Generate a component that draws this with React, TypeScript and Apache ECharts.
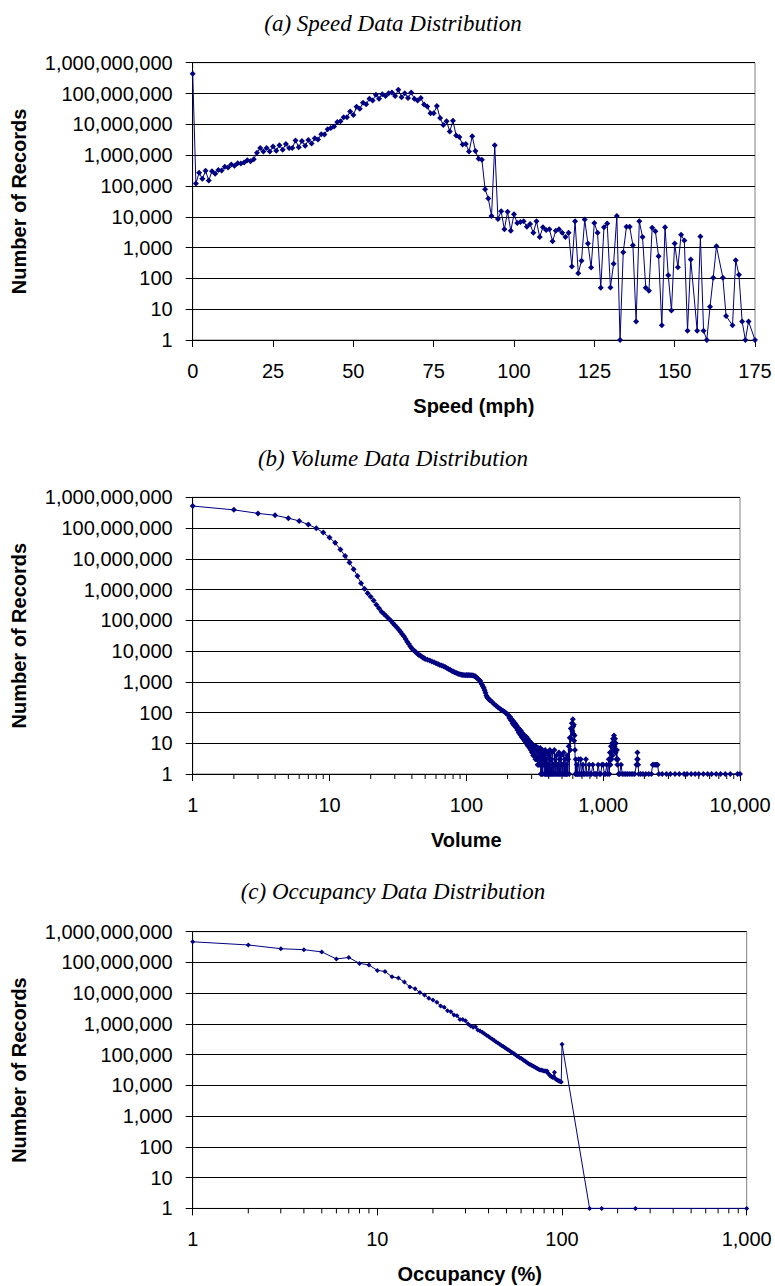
import React, { useEffect, useRef } from "react";
import * as echarts from "echarts";

// ---------- (a) Speed ----------
const speedTicks = [0, 25, 50, 75, 100, 125, 150, 175];
// counts for speed 0..175 mph (null = no record)
const speedCounts: (number | null)[] = [
  4.4e8, 1.2e5, 2.7e5, 1.7e5, 3.1e5, 1.5e5, 3.0e5, 2.5e5, 3.3e5, 3.2e5,
  4.2e5, 4.0e5, 5.0e5, 4.5e5, 5.5e5, 5.4e5, 5.8e5, 6.8e5, 6.3e5, 7.4e5,
  1.2e6, 1.7e6, 1.3e6, 1.7e6, 1.3e6, 1.9e6, 1.4e6, 2.1e6, 1.5e6, 2.3e6,
  1.7e6, 1.7e6, 3.0e6, 1.8e6, 2.9e6, 2.0e6, 3.1e6, 2.4e6, 3.5e6, 3.2e6,
  4.8e6, 4.7e6, 6.9e6, 7.6e6, 8.5e6, 1.2e7, 1.26e7, 1.7e7, 1.7e7, 2.6e7,
  2.0e7, 3.7e7, 3.2e7, 5.0e7, 4.5e7, 6.8e7, 5.9e7, 9.1e7, 6.8e7, 9.5e7,
  8.3e7, 1.02e8, 1.07e8, 8.3e7, 1.32e8, 7.6e7, 1.02e8, 7.2e7, 1.07e8, 6.8e7,
  5.9e7, 7.2e7, 4.4e7, 3.8e7, 2.3e7, 2.3e7, 3.9e7, 1.6e7, 9.5e6, 1.26e7,
  5.9e6, 1.3e7, 4.3e6, 3.9e6, 2.2e6, 2.3e6, 1.3e6, 4.1e6, 1.35e6, 7.6e5,
  7.1e5, 7.8e4, 3.9e4, 1.05e4, 2.1e6, 8.5e3, 1.5e4, 3.9e3, 1.45e4, 3.5e3,
  1.2e4, 6.3e3, 6.8e3, 7.2e3, 4.7e3, 5.8e3, 3.0e3, 7.1e3, 2.2e3, 4.6e3,
  3.7e3, 3.9e3, 1.6e3, 3.5e3, 3.9e3, 3.0e3, 2.2e3, 3.0e3, 245, 7.2e3,
  148, 370, 8.1e3, 1.35e3, 224, 6.3e3, 3.0e3, 50, 4.6e3, 6.0e3,
  51, 300, 1.05e4, 1, 710, 4.7e3, 4.7e3, 1.2e3, 4, 7.1e3,
  2.2e3, 50, 40, 4.4e3, 3.4e3, 525, 3, 4.6e3, 126, 9,
  1.35e3, 230, 2.6e3, 1.7e3, 2, 410, null, 2, 2.3e3, 2,
  1, 12, 105, 1.1e3, null, 105, 6, null, 3, 390,
  132, 4, 1, 4, null, 1,
];

// ---------- (b) Volume ----------
const volumeTicks = [1, 10, 100, 1000, 10000];
const volumeData: [number, number][] = [
  [1, 5.2e8], [2, 3.9e8], [3, 3.0e8], [4, 2.6e8], [5, 2.1e8], [6, 1.7e8], [7, 1.3e8], [8, 9.8e7], [9, 7.1e7], [10, 4.9e7],
  [11, 3.3e7], [12, 2.0e7], [13, 1.23e7], [14, 7.6e6], [15, 4.6e6], [16, 2.75e6], [17, 1.6e6], [18, 1.07e6], [19, 7.6e5], [20, 5.8e5],
  [21, 4.4e5], [22, 3.2e5], [23, 2.45e5], [24, 1.9e5], [25, 1.6e5], [26, 1.35e5], [27, 1.15e5], [28, 9.8e4], [29, 8.1e4], [30, 6.9e4],
  [31, 5.9e4], [32, 5.0e4], [33, 4.2e4], [34, 3.5e4], [35, 3.0e4], [36, 2.45e4], [37, 2.0e4], [38, 1.7e4], [39, 1.4e4], [40, 1.2e4],
  [41, 1.07e4], [42, 9.8e3], [43, 8.9e3], [44, 8.1e3], [45, 7.4e3], [46, 7.1e3], [47, 6.6e3], [48, 6.2e3], [49, 5.9e3], [50, 5.5e3],
  [52, 5.2e3], [54, 4.9e3], [56, 4.6e3], [58, 4.3e3], [60, 4.0e3], [62, 3.8e3], [64, 3.5e3], [66, 3.4e3], [68, 3.2e3], [70, 3.0e3],
  [72, 2.8e3], [74, 2.6e3], [76, 2.45e3], [78, 2.3e3], [80, 2.15e3], [82, 2.05e3], [84, 1.95e3], [86, 1.85e3], [88, 1.8e3], [90, 1.75e3],
  [92, 1.7e3], [94, 1.66e3], [96, 1.66e3], [98, 1.64e3], [100, 1.66e3], [102, 1.64e3], [104, 1.66e3], [106, 1.64e3], [108, 1.62e3], [110, 1.62e3],
  [112, 1.6e3], [114, 1.55e3], [116, 1.5e3], [118, 1.4e3], [120, 1.3e3], [122, 1.23e3], [124, 1.15e3], [126, 1.07e3], [128, 930], [130, 810],
  [132, 720], [134, 630], [136, 525], [138, 440], [140, 360], [142, 315], [144, 290], [146, 270], [148, 255], [150, 245],
  [155, 215], [160, 185], [165, 165], [170, 148], [175, 135], [180, 123], [185, 115], [190, 105], [195, 95], [200, 87],
  [203, 80], [206, 66], [209, 72], [212, 55], [215, 60], [218, 44], [221, 52], [224, 38], [227, 45], [230, 33],
  [233, 38], [236, 27], [239, 32], [242, 22], [245, 28], [248, 19], [251, 25], [254, 16], [257, 21], [260, 14],
  [263, 19], [266, 12], [269, 17], [272, 11], [275, 16], [278, 9], [281, 14], [284, 8], [287, 12], [290, 7],
  [293, 11], [296, 6], [299, 10], [302, 5], [305, 9], [308, 4], [311, 8], [314, 4], [317, 7], [320, 3],
  [323, 8], [326, 3], [329, 6], [332, 2], [335, 7], [338, 2], [341, 6], [344, 2], [347, 7], [350, 1],
  [353, 5], [356, 1], [359, 6], [362, 1], [365, 4], [368, 2], [371, 5], [374, 1], [377, 6], [380, 1],
  [383, 3], [386, 1], [389, 5], [392, 1], [395, 2], [398, 1], [401, 4], [404, 1], [408, 6], [412, 1],
  [416, 3], [420, 1], [424, 5], [428, 1], [432, 2], [436, 1], [440, 6], [444, 1], [448, 3], [452, 1],
  [456, 4], [460, 1], [465, 2], [470, 1], [475, 5], [480, 1], [485, 3], [490, 1], [495, 4], [500, 1],
  [505, 2], [510, 1], [515, 5], [520, 1], [525, 3], [530, 1], [535, 2], [540, 1], [545, 4], [550, 1],
  [555, 3], [560, 8], [565, 1], [570, 15], [575, 6], [580, 30], [585, 14], [590, 45], [595, 25], [600, 60],
  [603, 35], [606, 20], [610, 40], [614, 12], [618, 18], [622, 6], [626, 1], [630, 3], [636, 1], [642, 2],
  [648, 1], [655, 1], [662, 3], [670, 1], [678, 1], [686, 3], [694, 1], [702, 1], [712, 2], [722, 1],
  [735, 1], [748, 3], [760, 1], [775, 1], [790, 2], [805, 1], [820, 1], [840, 2], [860, 1], [880, 1],
  [900, 1], [920, 2], [940, 1], [960, 1], [980, 2], [1000, 2], [1020, 1], [1040, 1], [1060, 2], [1080, 1],
  [1100, 3], [1110, 1], [1120, 5], [1130, 2], [1140, 8], [1150, 3], [1160, 10], [1170, 4], [1180, 14], [1190, 6],
  [1200, 18], [1210, 8], [1220, 14], [1230, 5], [1240, 10], [1250, 3], [1260, 6], [1270, 2], [1280, 3], [1295, 1],
  [1320, 1], [1350, 2], [1380, 1], [1420, 1], [1460, 1], [1500, 1], [1550, 1], [1600, 1], [1650, 1], [1700, 1],
  [1750, 2], [1770, 3], [1780, 5], [1790, 3], [1800, 2], [1820, 1], [1880, 1], [1950, 1], [2050, 1], [2150, 1],
  [2250, 1], [2300, 2], [2350, 2], [2400, 2], [2450, 2], [2500, 2], [2550, 1], [2700, 1], [2900, 1], [3100, 1],
  [3350, 1], [3600, 1], [3900, 1], [4100, 1], [4400, 1], [4700, 1], [5000, 1], [5400, 1], [5800, 1], [6200, 1],
  [6700, 1], [7200, 1], [7800, 1], [8500, 1], [9600, 1], [10000, 1],
];

// ---------- (c) Occupancy ----------
const occupancyTicks = [1, 10, 100, 1000];
const occupancyPercent = [
  1, 2, 3, 4, 5, 6, 7, 8, 9, 10,
  11, 12, 13, 14, 15, 16, 17, 18, 19, 20,
  21, 22, 23, 24, 25, 26, 27, 28, 29, 30,
  31, 32, 33, 34, 35, 36, 37, 38, 39, 40,
  41, 42, 43, 44, 45, 46, 47, 48, 49, 50,
  51, 52, 53, 54, 55, 56, 57, 58, 59, 60,
  61, 62, 63, 64, 65, 66, 67, 68, 69, 70,
  71, 72, 73, 74, 75, 76, 77, 78, 79, 80,
  81, 82, 83, 84, 85, 86, 87, 88, 89, 90,
  91, 92, 93, 94, 95, 96, 97, 98, 99, 100,
  141, 164, 250, 1000,
];
const occupancyCounts = [
  4.7e8, 3.7e8, 2.8e8, 2.6e8, 2.2e8, 1.3e8, 1.45e8, 9.3e7, 8.3e7, 5.5e7,
  5.1e7, 3.4e7, 3.1e7, 2.3e7, 1.6e7, 1.4e7, 1.05e7, 8.7e6, 6.8e6, 6.0e6,
  5.1e6, 3.8e6, 3.5e6, 2.7e6, 2.5e6, 1.95e6, 1.86e6, 1.4e6, 1.4e6, 1.26e6,
  1.0e6, 8.5e5, 7.8e5, 8.1e5, 6.3e5, 5.9e5, 5.4e5, 4.8e5, 4.3e5, 3.9e5,
  3.5e5, 3.2e5, 2.9e5, 2.6e5, 2.4e5, 2.2e5, 2.0e5, 1.86e5, 1.7e5, 1.55e5,
  1.45e5, 1.35e5, 1.23e5, 1.15e5, 1.07e5, 1.0e5, 9.1e4, 8.5e4, 7.9e4, 7.6e4,
  7.1e4, 6.6e4, 6.2e4, 5.8e4, 5.4e4, 5.1e4, 4.8e4, 4.6e4, 4.4e4, 4.2e4,
  4.0e4, 3.8e4, 3.6e4, 3.5e4, 3.3e4, 3.2e4, 3.2e4, 3.1e4, 3.0e4, 2.95e4,
  2.95e4, 2.9e4, 2.95e4, 2.5e4, 2.3e4, 2.1e4, 2.0e4, 1.9e4, 1.8e4, 1.95e4,
  2.7e4, 1.66e4, 1.6e4, 1.5e4, 1.48e4, 1.4e4, 1.38e4, 1.32e4, 1.29e4, 2.2e5,
  1, 1, 1, 1,
];

const recordTicks = [1, 10, 100, 1000, 10000, 100000, 1000000, 10000000, 100000000, 1000000000];
const minorMultipliers = [2, 3, 4, 5, 6, 7, 8, 9];

const NAVY = "#000080";
const SANS = "Liberation Sans, Arial, sans-serif";
const SERIF = "Liberation Serif, Times New Roman, serif";

const fmt = (v: number) => Math.round(v).toLocaleString("en-US");

function minorTicksFor(decades: number[]) {
  const out: [number, number][] = [];
  decades.forEach((d) => minorMultipliers.forEach((m) => out.push([d * m, 1])));
  return out;
}

export default function App() {
  const ref = useRef<HTMLDivElement>(null);
  useEffect(() => {
    if (!ref.current) return;
    const chart = echarts.init(ref.current, undefined, { renderer: "svg" });

    const grids = [
      { left: 192.7, top: 62.7, width: 562.3, height: 277.3 },
      { left: 192.7, top: 497.3, width: 547.3, height: 276.7 },
      { left: 192.7, top: 931.7, width: 554, height: 276.7 },
    ].map((g) => ({
      ...g,
      show: true,
      borderColor: "#808080",
      borderWidth: 1,
      containLabel: false,
      outerBoundsMode: "none",
    }));

    const titles = [
      "(a) Speed Data Distribution",
      "(b) Volume Data Distribution",
      "(c) Occupancy Data Distribution",
    ];
    const titleTops = [12, 447, 880];

    const yAxes = [0, 1, 2].map((i) => ({
      type: "log",
      logBase: 10,
      gridIndex: i,
      min: recordTicks[0],
      max: recordTicks[recordTicks.length - 1],
      splitNumber: recordTicks.length - 1,
      name: "Number of Records",
      nameLocation: "middle",
      nameRotate: 90,
      nameGap: 164,
      nameTextStyle: { fontFamily: SANS, fontWeight: "bold", fontSize: 20, color: "#000" },
      axisLine: { show: true, lineStyle: { color: "#000", width: 1 } },
      axisTick: { show: true, length: 7, lineStyle: { color: "#000", width: 1 } },
      splitLine: { show: true, lineStyle: { color: "#000", width: 1 } },
      axisLabel: {
        fontFamily: SANS,
        fontSize: 20,
        color: "#000",
        margin: 20,
        formatter: (v: number) => fmt(v),
        showMinLabel: true,
        showMaxLabel: true,
        hideOverlap: false,
      },
    }));

    const xCommon = {
      nameLocation: "middle",
      nameGap: 56,
      nameTextStyle: { fontFamily: SANS, fontWeight: "bold", fontSize: 20, color: "#000" },
      axisLine: { show: true, onZero: false, lineStyle: { color: "#000", width: 1 } },
      axisTick: { show: true, length: 7, lineStyle: { color: "#000", width: 1 } },
      splitLine: { show: false },
      axisLabel: {
        fontFamily: SANS,
        fontSize: 20,
        color: "#000",
        margin: 21,
        formatter: (v: number) => fmt(v),
        showMinLabel: true,
        showMaxLabel: true,
        hideOverlap: false,
      },
    };

    const xAxes = [
      {
        ...xCommon,
        type: "value",
        gridIndex: 0,
        min: speedTicks[0],
        max: speedTicks[speedTicks.length - 1],
        interval: speedTicks[1] - speedTicks[0],
        name: "Speed (mph)",
      },
      {
        ...xCommon,
        type: "log",
        logBase: 10,
        gridIndex: 1,
        min: volumeTicks[0],
        max: volumeTicks[volumeTicks.length - 1],
        splitNumber: volumeTicks.length - 1,
        name: "Volume",
      },
      {
        ...xCommon,
        type: "log",
        logBase: 10,
        gridIndex: 2,
        min: occupancyTicks[0],
        max: occupancyTicks[occupancyTicks.length - 1],
        splitNumber: occupancyTicks.length - 1,
        name: "Occupancy (%)",
      },
    ];

    const speedData: [number, number][] = [];
    speedCounts.forEach((c, i) => {
      if (c != null) speedData.push([i, c]);
    });
    const occData: [number, number][] = occupancyPercent.map((p, i) => [p, occupancyCounts[i]]);

    const lineSeries = (idx: number, data: [number, number][], size: number) => ({
      type: "line",
      xAxisIndex: idx,
      yAxisIndex: idx,
      data,
      symbol: "diamond",
      symbolSize: size,
      showSymbol: true,
      showAllSymbol: true,
      clip: false,
      connectNulls: true,
      lineStyle: { color: NAVY, width: 1 },
      itemStyle: { color: NAVY },
      z: 5,
      silent: true,
    });

    const minorSeries = (idx: number, data: [number, number][]) => ({
      type: "custom",
      xAxisIndex: idx,
      yAxisIndex: idx,
      data,
      encode: { x: 0, y: 1 },
      clip: false,
      silent: true,
      z: 3,
      renderItem: (_p: any, api: any) => {
        const pt = api.coord([api.value(0), api.value(1)]);
        return {
          type: "line",
          shape: { x1: pt[0], y1: pt[1], x2: pt[0], y2: pt[1] + 5 },
          style: { stroke: "#000", lineWidth: 1 },
        };
      },
    });

    chart.setOption({
      animation: false,
      backgroundColor: "#fff",
      title: titles.map((t, i) => ({
        text: t,
        left: 393,
        top: titleTops[i],
        textAlign: "center",
        padding: 0,
        textStyle: {
          fontFamily: SERIF,
          fontStyle: "italic",
          fontWeight: "normal",
          fontSize: 23,
          color: "#000",
        },
      })),
      grid: grids,
      xAxis: xAxes,
      yAxis: yAxes,
      series: [
        lineSeries(0, speedData, 6),
        lineSeries(1, volumeData, 6),
        lineSeries(2, occData, 5),
        minorSeries(1, minorTicksFor([1, 10, 100, 1000])),
        minorSeries(2, minorTicksFor([1, 10, 100])),
      ],
    });
    return () => chart.dispose();
  }, []);

  return (
    <div
      ref={ref}
      style={{ position: "absolute", left: 0, top: 0, width: 775, height: 1286, background: "#fff" }}
    />
  );
}
